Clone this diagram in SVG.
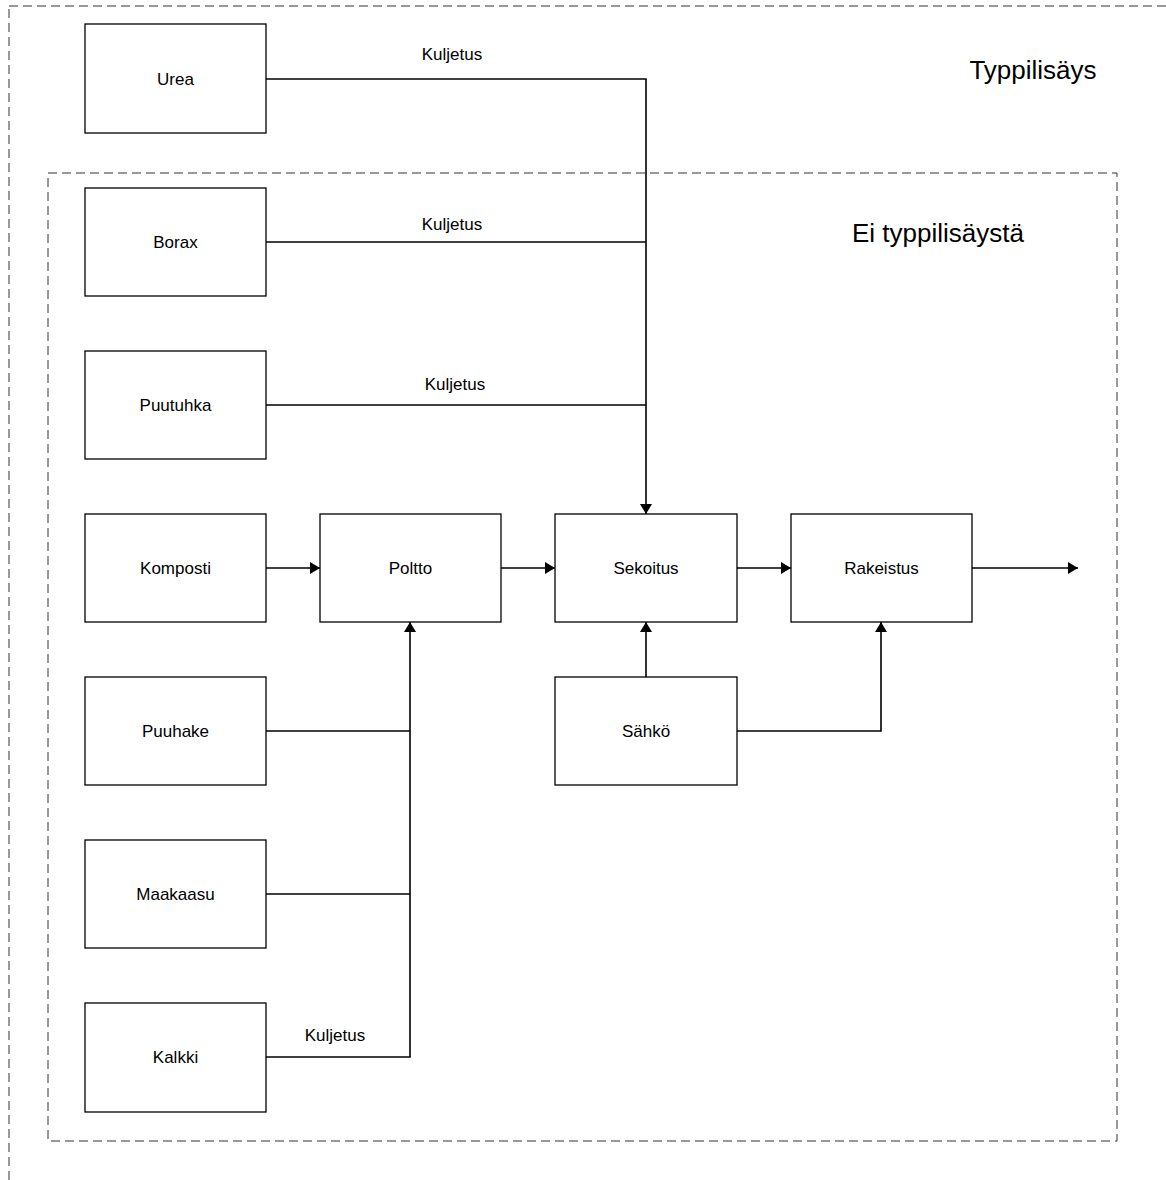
<svg xmlns="http://www.w3.org/2000/svg" width="1166" height="1180" viewBox="0 0 1166 1180">
  <style>
    .box { fill: #fff; stroke: #000; stroke-width: 1.3; }
    .zone { fill: none; stroke: #333; stroke-width: 1; stroke-dasharray: 9 5; }
    .wire { fill: none; stroke: #000; stroke-width: 1.6; }
    .lbl { font-family: "Liberation Sans", Arial, sans-serif; font-size: 17px; fill: #000; text-anchor: middle; dominant-baseline: central; }
    .zlbl { font-family: "Liberation Sans", Arial, sans-serif; font-size: 26px; fill: #000; text-anchor: middle; dominant-baseline: central; }
  </style>
  <defs>
    <marker id="arrow" viewBox="0 0 10 12" refX="10" refY="6" markerWidth="10" markerHeight="12" markerUnits="userSpaceOnUse" orient="auto">
      <path d="M0,0 L10,6 L0,12 Z" fill="#000"/>
    </marker>
  </defs>
  <rect width="1166" height="1180" fill="#fff"/>

  <!-- scope frames -->
  <g id="zone-typpilisays">
    <rect class="zone" x="9" y="6" width="1200" height="1200"/>
    <text class="zlbl" x="1033" y="70">Typpilisäys</text>
  </g>
  <g id="zone-ei-typpilisaysta">
    <rect class="zone" x="48" y="173" width="1069" height="968"/>
    <text class="zlbl" x="938" y="233">Ei typpilisäystä</text>
  </g>

  <!-- connectors -->
  <g id="connectors">
    <path class="wire" d="M266,79 H646 V514" marker-end="url(#arrow)"/>
    <path class="wire" d="M266,242 H646"/>
    <path class="wire" d="M266,405 H646"/>
    <path class="wire" d="M266,568 H320" marker-end="url(#arrow)"/>
    <path class="wire" d="M501,568 H555" marker-end="url(#arrow)"/>
    <path class="wire" d="M737,568 H791" marker-end="url(#arrow)"/>
    <path class="wire" d="M972,568 H1078" marker-end="url(#arrow)"/>
    <path class="wire" d="M266,1057 H410 V622" marker-end="url(#arrow)"/>
    <path class="wire" d="M266,731 H410"/>
    <path class="wire" d="M266,894 H410"/>
    <path class="wire" d="M646,677 V622" marker-end="url(#arrow)"/>
    <path class="wire" d="M737,731 H881 V622" marker-end="url(#arrow)"/>
    <text class="lbl" x="452" y="54">Kuljetus</text>
    <text class="lbl" x="452" y="224">Kuljetus</text>
    <text class="lbl" x="455" y="384">Kuljetus</text>
    <text class="lbl" x="335" y="1035">Kuljetus</text>
  </g>

  <!-- process nodes -->
  <g id="urea"><rect class="box" x="85" y="24" width="181" height="109"/><text class="lbl" x="175.5" y="79">Urea</text></g>
  <g id="borax"><rect class="box" x="85" y="188" width="181" height="108"/><text class="lbl" x="175.5" y="242">Borax</text></g>
  <g id="puutuhka"><rect class="box" x="85" y="351" width="181" height="108"/><text class="lbl" x="175.5" y="405">Puutuhka</text></g>
  <g id="komposti"><rect class="box" x="85" y="514" width="181" height="108"/><text class="lbl" x="175.5" y="568">Komposti</text></g>
  <g id="puuhake"><rect class="box" x="85" y="677" width="181" height="108"/><text class="lbl" x="175.5" y="731">Puuhake</text></g>
  <g id="maakaasu"><rect class="box" x="85" y="840" width="181" height="108"/><text class="lbl" x="175.5" y="894">Maakaasu</text></g>
  <g id="kalkki"><rect class="box" x="85" y="1003" width="181" height="109"/><text class="lbl" x="175.5" y="1057">Kalkki</text></g>
  <g id="poltto"><rect class="box" x="320" y="514" width="181" height="108"/><text class="lbl" x="410.5" y="568">Poltto</text></g>
  <g id="sekoitus"><rect class="box" x="555" y="514" width="182" height="108"/><text class="lbl" x="646" y="568">Sekoitus</text></g>
  <g id="rakeistus"><rect class="box" x="791" y="514" width="181" height="108"/><text class="lbl" x="881.5" y="568">Rakeistus</text></g>
  <g id="sahko"><rect class="box" x="555" y="677" width="182" height="108"/><text class="lbl" x="646" y="731">Sähkö</text></g>
</svg>
